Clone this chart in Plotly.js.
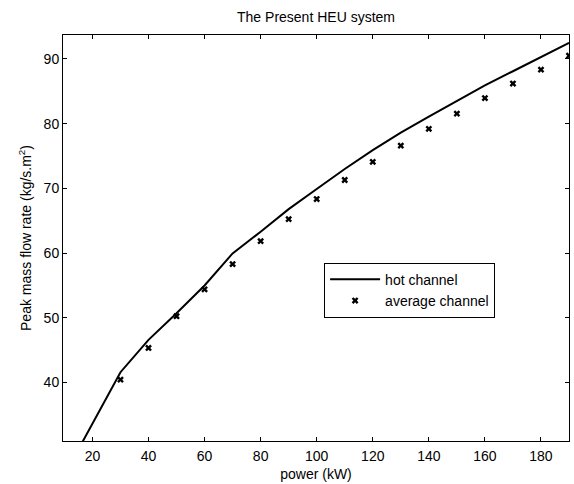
<!DOCTYPE html>
<html>
<head>
<meta charset="utf-8">
<script src="https://cdn.plot.ly/plotly-3.0.1.min.js"></script>
<style>html,body{margin:0;padding:0;background:#fff;}#chart{width:574px;height:484px;}</style>
</head>
<body>
<div id="chart"></div>
<script>
// Hot channel (solid line)
const hotPower = [10, 20, 30, 40, 50, 60, 70, 80, 90, 100, 110, 120, 130, 140, 150, 160, 170, 180, 190];
const hotFlow  = [25.7, 33.65, 41.6, 46.6, 50.7, 55.0, 59.95, 63.3, 66.8, 69.9, 73.0, 75.9, 78.6, 81.1, 83.5, 85.9, 88.1, 90.3, 92.5];
// Average channel (x markers)
const avgPower = [30, 40, 50, 60, 70, 80, 90, 100, 110, 120, 130, 140, 150, 160, 170, 180, 190];
const avgFlow  = [40.45, 45.35, 50.25, 54.4, 58.3, 61.85, 65.25, 68.35, 71.3, 74.1, 76.6, 79.2, 81.55, 83.95, 86.2, 88.35, 90.5];
const xTicks = [20, 40, 60, 80, 100, 120, 140, 160, 180];
const yTicks = [40, 50, 60, 70, 80, 90];

const font = {family: '"Liberation Sans", Arial, sans-serif', size: 14, color: '#000'};

const traces = [
  {x: hotPower, y: hotFlow, type: 'scatter', mode: 'lines', name: 'hot channel',
   line: {color: '#000', width: 2}},
  {x: avgPower, y: avgFlow, type: 'scatter', mode: 'markers', name: 'average channel',
   marker: {symbol: 'x', size: 6, color: '#000'}}
];

const axisCommon = {
  showgrid: false, zeroline: false, showline: true, linecolor: '#000', linewidth: 1,
  mirror: 'ticks', ticks: 'inside', ticklen: 4, tickcolor: '#000', tickwidth: 1,
  tickfont: font
};

const layout = {
  width: 574, height: 484,
  margin: {l: 63, r: 5, t: 35, b: 43},
  paper_bgcolor: '#fff', plot_bgcolor: '#fff',
  font: font,
  title: {text: 'The Present HEU system', font: font, x: 0.5, xanchor: 'center',
    xref: 'paper', yref: 'container', y: 0.964, yanchor: 'middle'},
  xaxis: Object.assign({}, axisCommon, {
    range: [9.5, 190], tickvals: xTicks, ticktext: xTicks.map(String),
    ticklabelstandoff: 2,
    title: {text: 'power (kW)', font: font, standoff: 6}
  }),
  yaxis: Object.assign({}, axisCommon, {
    range: [30.97, 93.7], tickvals: yTicks, ticktext: yTicks.map(String),
    title: {text: 'Peak mass flow rate (kg/s.m<sup>2</sup>)', font: font, standoff: 8}
  }),
  showlegend: true,
  legend: {x: 0.516, y: 0.439, xanchor: 'left', yanchor: 'top', itemwidth: 50,
    bordercolor: '#000', borderwidth: 1, bgcolor: '#fff', font: font, tracegroupgap: 0}
};

Plotly.newPlot('chart', traces, layout, {displayModeBar: false, staticPlot: true});
</script>
</body>
</html>
